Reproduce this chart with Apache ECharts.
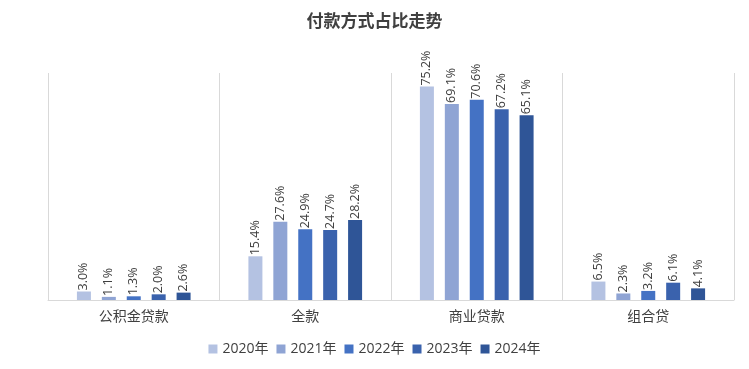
<!DOCTYPE html>
<html><head><meta charset="utf-8">
<script src="https://cdn.jsdelivr.net/npm/echarts@6/dist/echarts.min.js"></script>
<style>html,body{margin:0;padding:0;background:#fff}#c{width:749px;height:369px}</style>
</head><body><div id="c"></div>
<script>
var categories = ['公积金贷款', '全款', '商业贷款', '组合贷'];
var seriesNames = ['2020年', '2021年', '2022年', '2023年', '2024年'];
var v2020 = [3.0, 15.4, 75.2, 6.5];
var v2021 = [1.1, 27.6, 69.1, 2.3];
var v2022 = [1.3, 24.9, 70.6, 3.2];
var v2023 = [2.0, 24.7, 67.2, 6.1];
var v2024 = [2.6, 28.2, 65.1, 4.1];
var values = [v2020, v2021, v2022, v2023, v2024];
var colors = ['#b4c2e2', '#8fa4d4', '#4472c4', '#3a62ad', '#2f5597'];
var font = '"Open Sans", "Noto Sans CJK SC", sans-serif';
var chart = echarts.init(document.getElementById('c'));
chart.setOption({
  animation: false,
  title: {text: '付款方式占比走势', left: 'center', top: 7,
    textStyle: {fontFamily: '"Noto Sans CJK SC", sans-serif', fontSize: 17, fontWeight: 'bold', color: '#404040'}},
  legend: {bottom: 8, itemWidth: 9, itemHeight: 9, itemGap: 8, icon: 'rect',
    textStyle: {fontFamily: font, fontSize: 14, color: '#404040'}, data: seriesNames},
  grid: {left: 48, right: 15, top: 73, bottom: 69},
  xAxis: {type: 'category', data: categories,
    axisLine: {lineStyle: {color: '#d9d9d9'}}, axisTick: {show: false},
    splitLine: {show: true, lineStyle: {color: '#d9d9d9'}},
    axisLabel: {fontFamily: font, fontSize: 14, color: '#404040', margin: 10}},
  yAxis: {type: 'value', min: 0, max: 80, show: false, splitLine: {show: false}},
  series: seriesNames.map(function (n, i) {
    return {name: n, type: 'bar', data: values[i], barWidth: 14, barGap: '78%',
      itemStyle: {color: colors[i]},
      label: {show: true, position: 'top', rotate: 90, align: 'left', verticalAlign: 'middle', distance: 1,
        fontFamily: font, fontSize: 12.5, color: '#404040',
        formatter: function (p) { return p.value.toFixed(1) + '%'; }}};
  })
});
</script></body></html>
